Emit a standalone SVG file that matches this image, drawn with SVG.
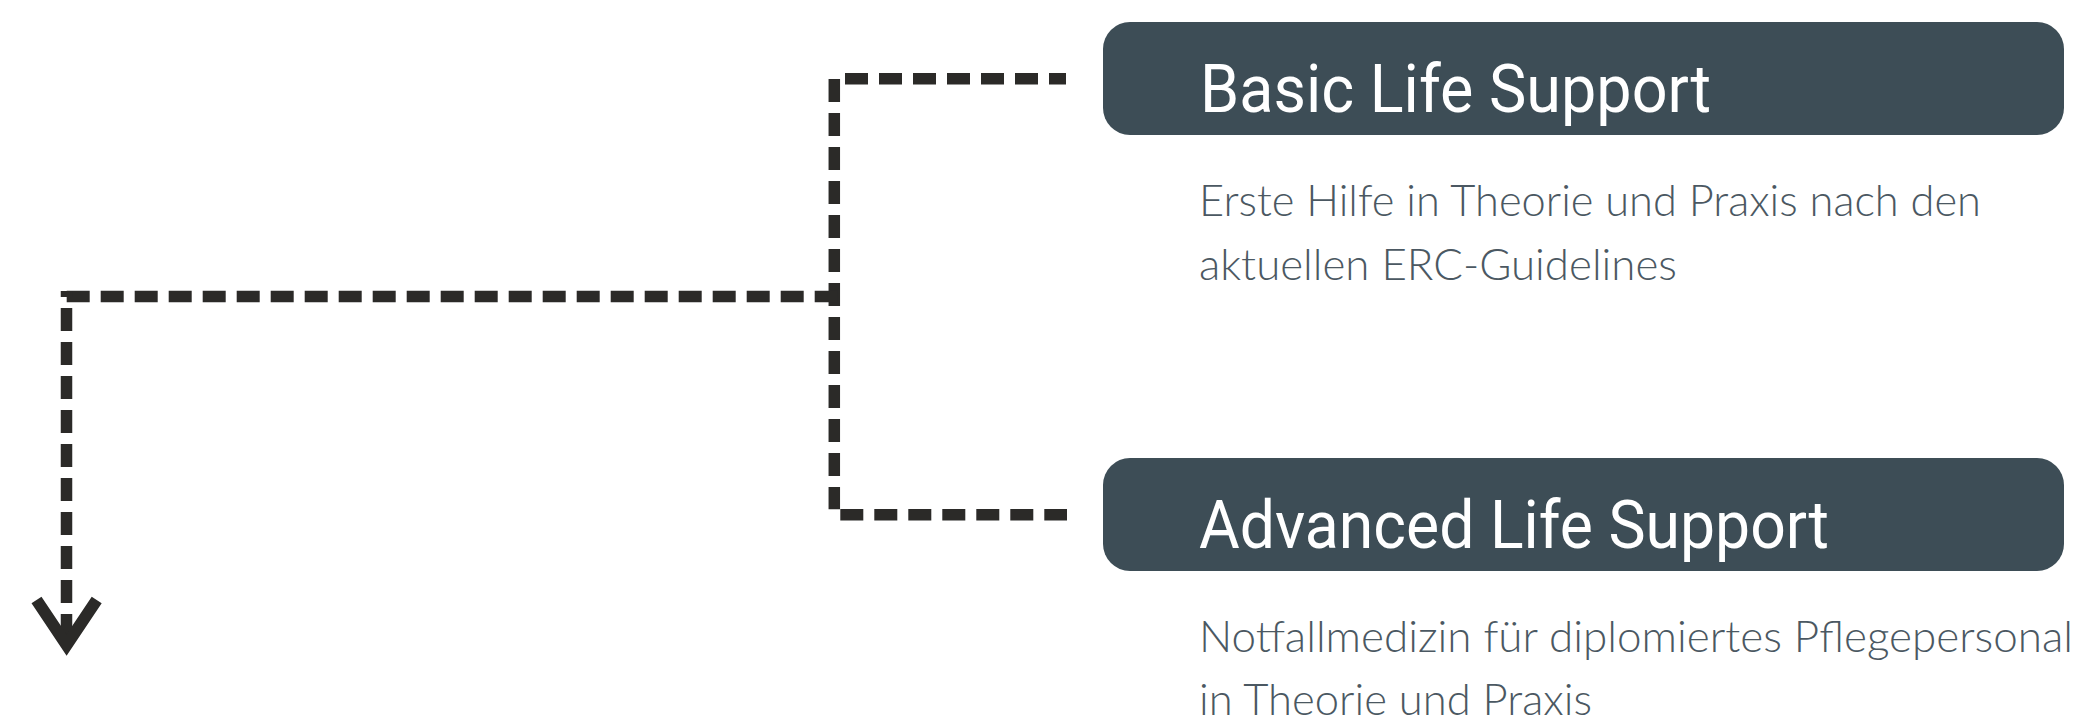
<svg xmlns="http://www.w3.org/2000/svg" width="2082" height="721" viewBox="0 0 2082 721">
<style>
.box{fill:#3d4d56}
.title{font-family:Roboto,"Liberation Sans",sans-serif;font-size:67px;fill:#ffffff;font-weight:400}
.desc{font-family:Lato,Roboto,"Liberation Sans",sans-serif;font-size:44px;fill:#4b5862;font-weight:300}
.dash{fill:none;stroke:#2b2a28;stroke-width:11.5;stroke-dasharray:23 11;stroke-linecap:butt}
.head{fill:none;stroke:#2b2a28;stroke-width:12;stroke-linejoin:miter;stroke-miterlimit:10}
</style>
<rect width="2082" height="721" fill="#ffffff"/>
<g id="connectors">
<path class="dash" d="M845 78.8 H1066"/>
<path class="dash" d="M834.3 79 V509.3"/>
<path class="dash" d="M840.3 514.7 H1067"/>
<path class="dash" d="M66.7 296.5 H838"/>
<path class="dash" d="M66.5 291 V645" stroke-dashoffset="17"/>
<polyline class="head" points="36.5,600 66.6,645 96.7,600"/>
</g>
<g id="node-bls">
<rect class="box" x="1103" y="22" width="961" height="113" rx="27" ry="27"/>
<text class="title" x="1200" y="112" textLength="511" lengthAdjust="spacingAndGlyphs">Basic Life Support</text>
<text class="desc" x="1199" y="216" textLength="782" lengthAdjust="spacingAndGlyphs">Erste Hilfe in Theorie und Praxis nach den</text>
<text class="desc" x="1199" y="280" textLength="478" lengthAdjust="spacingAndGlyphs">aktuellen ERC-Guidelines</text>
</g>
<g id="node-als">
<rect class="box" x="1103" y="458" width="961" height="113" rx="27" ry="27"/>
<text class="title" x="1199" y="548" textLength="630" lengthAdjust="spacingAndGlyphs">Advanced Life Support</text>
<text class="desc" x="1199" y="652" textLength="874" lengthAdjust="spacingAndGlyphs">Notfallmedizin für diplomiertes Pflegepersonal</text>
<text class="desc" x="1199" y="715" textLength="393" lengthAdjust="spacingAndGlyphs">in Theorie und Praxis</text>
</g>
</svg>
